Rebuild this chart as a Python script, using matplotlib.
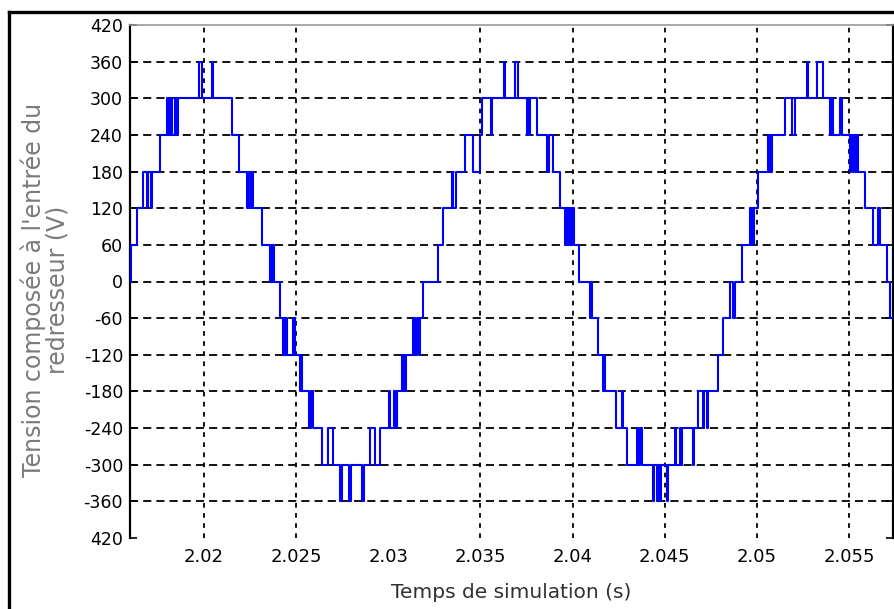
import matplotlib
matplotlib.use("Agg")
import matplotlib.pyplot as plt
from matplotlib.lines import Line2D

# switching instants (s) and line-to-line voltage level (V) held after each instant
t_switch = [
    2.01590, 2.01604, 2.01636, 2.01669, 2.01691, 2.01696, 2.01712, 2.01718,
    2.01761, 2.01799, 2.01805, 2.01810, 2.01816, 2.01821, 2.01826, 2.01843,
    2.01848, 2.01859, 2.01973, 2.01989, 2.02043, 2.02049, 2.02152, 2.02190,
    2.02233, 2.02239, 2.02244, 2.02250, 2.02255, 2.02260, 2.02266, 2.02315,
    2.02358, 2.02364, 2.02369, 2.02374, 2.02380, 2.02412, 2.02429, 2.02434,
    2.02440, 2.02445, 2.02450, 2.02483, 2.02494, 2.02521, 2.02526, 2.02532,
    2.02570, 2.02581, 2.02591, 2.02640, 2.02673, 2.02700, 2.02738, 2.02749,
    2.02787, 2.02798, 2.02857, 2.02868, 2.02901, 2.02928, 2.02955, 2.03004,
    2.03009, 2.03031, 2.03036, 2.03047, 2.03074, 2.03080, 2.03085, 2.03091,
    2.03096, 2.03134, 2.03145, 2.03156, 2.03167, 2.03172, 2.03188, 2.03270,
    2.03297, 2.03346, 2.03351, 2.03367, 2.03416, 2.03460, 2.03498, 2.03508,
    2.03557, 2.03563, 2.03628, 2.03633, 2.03688, 2.03704, 2.03753, 2.03758,
    2.03763, 2.03769, 2.03807, 2.03861, 2.03872, 2.03894, 2.03932, 2.03959,
    2.03964, 2.03975, 2.03981, 2.03991, 2.03997, 2.04008, 2.04035, 2.04094,
    2.04100, 2.04105, 2.04138, 2.04165, 2.04170, 2.04176, 2.04236, 2.04268,
    2.04274, 2.04295, 2.04349, 2.04355, 2.04366, 2.04377, 2.04436, 2.04442,
    2.04458, 2.04463, 2.04474, 2.04480, 2.04512, 2.04518, 2.04556, 2.04561,
    2.04583, 2.04588, 2.04594, 2.04653, 2.04659, 2.04680, 2.04708, 2.04713,
    2.04729, 2.04735, 2.04789, 2.04816, 2.04854, 2.04870, 2.04881, 2.04919,
    2.04963, 2.04968, 2.04973, 2.04979, 2.04984, 2.05006, 2.05060, 2.05066,
    2.05071, 2.05077, 2.05082, 2.05153, 2.05191, 2.05207, 2.05272, 2.05277,
    2.05326, 2.05359, 2.05397, 2.05402, 2.05413, 2.05451, 2.05462, 2.05505,
    2.05511, 2.05521, 2.05527, 2.05538, 2.05543, 2.05549, 2.05587, 2.05630,
    2.05657, 2.05668, 2.05706, 2.05722, 2.05800,
]
v_level = [
    0, 60, 120, 180, 120, 180, 120, 180,
    240, 300, 240, 300, 240, 300, 240, 300,
    240, 300, 360, 300, 360, 300, 240, 180,
    120, 180, 120, 180, 120, 180, 120, 60,
    0, 60, 0, 60, 0, -60, -120, -60,
    -120, -60, -120, -60, -120, -180, -120, -180,
    -240, -180, -240, -300, -240, -300, -360, -300,
    -360, -300, -360, -300, -240, -300, -240, -180,
    -240, -180, -240, -180, -120, -180, -120, -180,
    -120, -60, -120, -60, -120, -60, 0, 60,
    120, 180, 120, 180, 240, 180, 240, 300,
    240, 300, 360, 300, 360, 300, 240, 300,
    240, 300, 240, 180, 240, 180, 120, 60,
    120, 60, 120, 60, 120, 60, 0, -60,
    0, -60, -120, -180, -120, -180, -240, -180,
    -240, -300, -240, -300, -240, -300, -360, -300,
    -360, -300, -360, -300, -360, -300, -240, -300,
    -240, -300, -240, -300, -240, -180, -240, -180,
    -240, -180, -120, -60, 0, -60, 0, 60,
    120, 60, 120, 60, 120, 180, 240, 180,
    240, 180, 240, 300, 240, 300, 360, 300,
    360, 300, 240, 300, 240, 300, 240, 180,
    240, 180, 240, 180, 240, 180, 120, 60,
    120, 60, 0, -60, -60,
]

x_ticks = [2.02, 2.025, 2.03, 2.035, 2.04, 2.045, 2.05, 2.055]
x_tick_labels = ["2.02", "2.025", "2.03", "2.035", "2.04", "2.045", "2.05", "2.055"]
y_ticks = [-420, -360, -300, -240, -180, -120, -60, 0, 60, 120, 180, 240, 300, 360, 420]
y_tick_labels = ["420", "-360", "-300", "-240", "-180", "-120", "-60", "0",
                 "60", "120", "180", "240", "300", "360", "420"]

fig = plt.figure(figsize=(8.95, 6.09), dpi=100)
ax = fig.add_axes([130 / 895, 1 - 538 / 609, 763 / 895, 513 / 609])

ax.step(t_switch, v_level, where="post", color="#0000ff", lw=1.5, zorder=3)

ax.set_xlim(2.01598, 2.05739)
ax.set_ylim(-420, 420)
ax.set_xticks(x_ticks)
ax.set_xticklabels(x_tick_labels)
ax.set_yticks(y_ticks)
ax.set_yticklabels(y_tick_labels)

# grid: horizontal everywhere, vertical at every tick except 2.03 (absent in the original)
for yv in y_ticks[1:-1]:
    ax.axhline(yv, color="black", lw=1.3, ls=(0, (4.5, 2.8)), zorder=1)
for xv in x_ticks:
    if xv == 2.03:
        continue
    ax.axvline(xv, color="black", lw=1.3, ls=(0, (2.6, 3)), zorder=1)

ax.tick_params(axis="y", direction="in", length=5, width=1.2, left=True, right=True,
               labelsize=12.5, pad=5)
ax.tick_params(axis="x", direction="in", length=0, labelsize=13, pad=7)

ax.spines["bottom"].set_visible(False)
ax.spines["top"].set_color("#9a9a9a")
ax.spines["top"].set_linewidth(1.2)
ax.spines["left"].set_linewidth(1.6)
ax.spines["right"].set_linewidth(1.6)

fig.text(511 / 895, 1 - 593 / 609, "Temps de simulation (s)", ha="center", va="center",
         fontsize=14.5, color="#303030")
fig.text(45 / 895, 1 - 290 / 609, "Tension composée à l'entrée du\nredresseur (V)",
         rotation=90, ha="center", va="center", multialignment="center",
         fontsize=17, color="#7a7a7a", linespacing=0.95)

# outer frame of the figure (right and bottom edges fall outside the picture)
fig.add_artist(Line2D([9.5 / 895, 9.5 / 895], [0, 1 - 11.5 / 609], color="black", lw=2.4,
                      transform=fig.transFigure))
fig.add_artist(Line2D([9.5 / 895, 1.0], [1 - 11.5 / 609, 1 - 11.5 / 609], color="black",
                      lw=2.4, transform=fig.transFigure))

fig.savefig("out.png", dpi=100)
